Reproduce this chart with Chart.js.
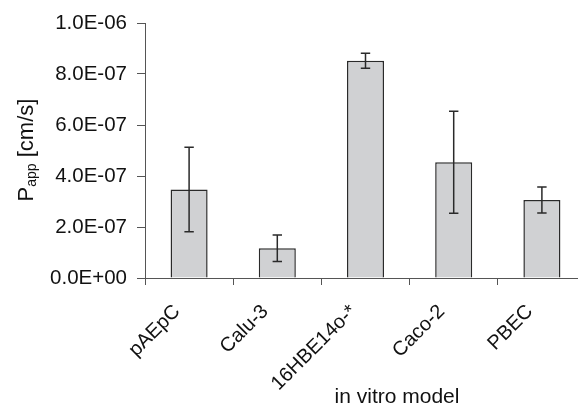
<!DOCTYPE html>
<html>
<head>
<meta charset="utf-8">
<script src="https://cdn.jsdelivr.net/npm/chart.js@4.4.1/dist/chart.umd.min.js"></script>
<style>
    html, body { margin: 0; padding: 0; overflow: hidden; background: #fff; }
    #wrap { width: 600px; height: 408px; }
</style>
</head>
<body>
<div id="wrap"><canvas id="pappChart" width="600" height="408"></canvas></div>
<script>
// values (cm/s)
const categories = ['pAEpC', 'Calu-3', '16HBE14o-*', 'Caco-2', 'PBEC'];
const pappValues = [3.47e-7, 1.17e-7, 8.52e-7, 4.54e-7, 3.06e-7];
const pappErrors = [1.66e-7, 0.52e-7, 0.29e-7, 2.0e-7, 0.51e-7];
const yTickValues = [0, 2e-7, 4e-7, 6e-7, 8e-7, 1e-6];
const yTickLabels = ['0.0E+00', '2.0E-07', '4.0E-07', '6.0E-07', '8.0E-07', '1.0E-06'];

const FONT = '"Liberation Sans", Arial, Helvetica, sans-serif';
const AXIS_COLOR = '#555';

// error bars drawn on top of the bars
const errorBars = {
    id: 'errorBars',
    afterDatasetsDraw(chart) {
        const ctx = chart.ctx;
        const y = chart.scales.y;
        const meta = chart.getDatasetMeta(0);
        ctx.save();
        ctx.strokeStyle = '#2a2a2a';
        ctx.lineWidth = 1.5;
        meta.data.forEach((bar, i) => {
            const top = y.getPixelForValue(pappValues[i] + pappErrors[i]);
            const bot = y.getPixelForValue(pappValues[i] - pappErrors[i]);
            const cap = 4.7;
            ctx.beginPath();
            ctx.moveTo(bar.x, top);
            ctx.lineTo(bar.x, bot);
            ctx.moveTo(bar.x - cap, top);
            ctx.lineTo(bar.x + cap, top);
            ctx.moveTo(bar.x - cap, bot);
            ctx.lineTo(bar.x + cap, bot);
            ctx.stroke();
        });
        ctx.restore();
    }
};

// axis titles (y title needs a subscript)
const axisTitles = {
    id: 'axisTitles',
    afterDraw(chart) {
        const ctx = chart.ctx;
        ctx.save();
        ctx.fillStyle = '#111';

        // y title, rotated
        const big = '22px ' + FONT;
        const small = '14px ' + FONT;
        ctx.font = big;
        const wP = ctx.measureText('P').width;
        const wRest = ctx.measureText(' [cm/s]').width;
        ctx.font = small;
        const wSub = ctx.measureText('app').width;
        const total = wP + wSub + wRest;
        ctx.translate(33, 150);
        ctx.rotate(-Math.PI / 2);
        ctx.textBaseline = 'alphabetic';
        ctx.textAlign = 'left';
        let x = -total / 2;
        ctx.font = big;
        ctx.fillText('P', x, 0);
        x += wP;
        ctx.font = small;
        ctx.fillText('app', x, 3);
        x += wSub;
        ctx.font = big;
        ctx.fillText(' [cm/s]', x, 0);
        ctx.setTransform(1, 0, 0, 1, 0, 0);

        // x title
        ctx.font = '21px ' + FONT;
        ctx.textAlign = 'center';
        ctx.textBaseline = 'middle';
        ctx.fillText('in vitro model', 397, 397);
        ctx.restore();
    }
};

new Chart(document.getElementById('pappChart'), {
    type: 'bar',
    data: {
        labels: categories,
        datasets: [{
            data: pappValues,
            backgroundColor: '#d0d1d3',
            borderColor: '#2a2a2a',
            borderWidth: 1.5,
            barPercentage: 0.42,
            categoryPercentage: 1.0
        }]
    },
    options: {
        responsive: false,
        devicePixelRatio: 1,
        animation: false,
        layout: { padding: { left: 0, top: 23, right: 14, bottom: 0 } },
        plugins: {
            legend: { display: false },
            tooltip: { enabled: false }
        },
        scales: {
            x: {
                afterFit(scale) { scale.height = 130; },
                grid: {
                    offset: true,
                    drawOnChartArea: false,
                    drawTicks: true,
                    tickLength: 7,
                    color: AXIS_COLOR
                },
                border: { color: AXIS_COLOR, width: 1 },
                ticks: {
                    minRotation: 45,
                    maxRotation: 45,
                    padding: 15,
                    labelOffset: -12,
                    color: '#111',
                    font: { family: FONT, size: 20 }
                }
            },
            y: {
                min: 0,
                max: 1e-6,
                afterFit(scale) { scale.width = 145; },
                afterBuildTicks(scale) {
                    scale.ticks = yTickValues.map(v => ({ value: v }));
                },
                grid: {
                    drawOnChartArea: false,
                    drawTicks: true,
                    tickLength: 8,
                    color: AXIS_COLOR
                },
                border: { color: AXIS_COLOR, width: 1 },
                ticks: {
                    padding: 10,
                    color: '#111',
                    font: { family: FONT, size: 20.5 },
                    callback: (value, index) => yTickLabels[index]
                }
            }
        }
    },
    plugins: [errorBars, axisTitles]
});
</script>
</body>
</html>
